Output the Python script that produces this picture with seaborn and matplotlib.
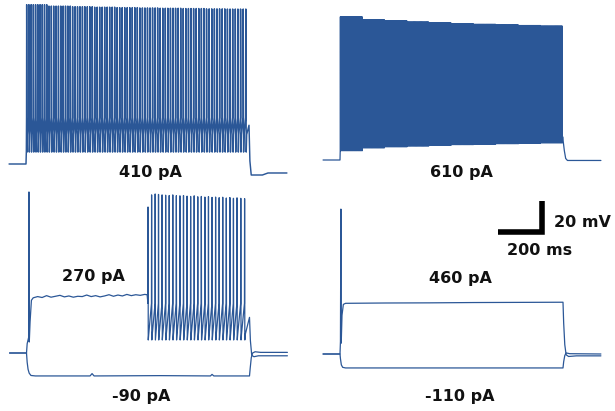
import numpy as np
import pandas as pd
import matplotlib
matplotlib.use("Agg")
import matplotlib.pyplot as plt
import seaborn as sns

# ---------------- protocol ----------------
REST_MV = -70.0
SWEEP_START_MS, SWEEP_END_MS = -76.0, 1170.0
STEP_OFF_MS = 1000.0

# ---------------- 410 pA : tonic firing ----------------
# inter-spike interval (ms) per 100-ms bin of the step, and first spike latency
isi_ms_410 = [10.0, 10.6, 11.0, 11.2, 11.3, 11.4, 11.5, 11.6, 11.7, 11.8]
first_spike_ms_410 = 3.0
peak_mv_410 = [32.8, 31.9, 31.5, 31.2, 30.9, 30.7, 30.5, 30.3, 30.1, 30.0]
ahp_mv_410 = [-62.3] * 10
ramp_mv_410 = (-51.0, -40.0)  # inter-spike depolarisation: start, threshold
pre_t_410 = [SWEEP_START_MS, 0.0, 1.5]
pre_v_410 = [REST_MV, REST_MV, -62.0]
post_t_410 = [1000.0, 1004.0, 1010.0, 1060.0, 1085.0, SWEEP_END_MS]
post_v_410 = [-45.0, -68.0, -77.1, -77.1, -75.8, -75.8]

# ---------------- 610 pA : high-frequency firing ----------------
isi_ms_610 = [3.6, 3.8, 3.9, 3.9, 4.0, 4.0, 4.0, 4.1, 4.1, 4.1]
first_spike_ms_610 = 1.8
peak_mv_610 = [22.4, 20.6, 19.9, 19.1, 18.6, 18.0, 17.6, 17.2, 16.8, 16.5]
ahp_mv_610 = [-64.0, -62.2, -61.5, -61.0, -60.5, -60.1, -59.8, -59.5, -59.2, -59.0]
ramp_mv_610 = (-55.0, -45.0)
pre_t_610 = [SWEEP_START_MS, 0.0, 1.0]
pre_v_610 = [REST_MV, REST_MV, -64.0]
post_t_610 = [1002.0, 1006.0, 1012.0, 1020.0, SWEEP_END_MS]
post_v_610 = [-59.0, -64.0, -69.0, -70.3, -70.3]

# ---------------- 270 pA : delayed burst ----------------
onset_t_270 = [SWEEP_START_MS, 0.0, 3.0, 9.5, 11.0, 12.5, 16.0, 22.0]
onset_v_270 = [REST_MV, REST_MV, -64.0, -60.0, 33.9, -62.9, -50.0, -36.0]
plateau_t_270 = list(np.arange(30.0, 531.0, 20.0))
plateau_v_270 = [-34.4, -33.6, -34.2, -33.0, -34.0, -33.4, -32.8, -33.8, -33.2,
                 -34.0, -33.4, -33.6, -32.6, -33.6, -33.0, -33.8, -33.2, -32.4,
                 -33.4, -32.6, -33.2, -32.2, -33.0, -32.4, -32.8, -32.2]
burst_t_270 = [545, 561, 577, 592, 608, 624, 640, 656, 672, 688, 704, 720, 736, 752,
               768, 784, 800, 816, 832, 848, 864, 880, 896, 912, 928, 944, 961, 978]
burst_peak_270 = [24.2, 32.0, 32.6, 32.3, 32.0, 31.8, 31.6, 32.0, 31.5, 31.4, 31.6,
                  31.2, 31.0, 31.4, 30.8, 31.0, 30.6, 30.9, 30.4, 30.6, 30.2, 30.5,
                  30.0, 30.3, 29.8, 30.1, 29.8, 29.6]
burst_ahp_270 = [-61.6] * len(burst_t_270)
ramp_mv_270 = (-58.0, -38.0)
post_t_270 = [1000.0, 1004.0, 1010.0, 1020.0, 1040.0, SWEEP_END_MS]
post_v_270 = [-47.0, -62.0, -71.5, -72.4, -71.8, -71.8]

# ---------------- -90 pA ----------------
t_m90 = [SWEEP_START_MS, 0, 3, 7, 12, 20, 40, 285, 294, 303, 600, 825, 832, 840,
         1000, 1003, 1008, 1014, 1025, 1050, SWEEP_END_MS]
v_m90 = [REST_MV, REST_MV, -76.0, -80.5, -83.0, -84.5, -84.8, -84.8, -83.3, -84.8,
         -84.6, -84.8, -83.8, -84.8, -84.8, -80.0, -73.0, -70.0, -69.2, -69.6, -69.6]

# ---------------- 460 pA : single onset spike ----------------
t_460 = [SWEEP_START_MS, 0, 2, 4, 5.5, 9, 15, 25, 200, 400, 600, 800, 995,
         1000, 1003, 1008, 1014, 1025, 1060, SWEEP_END_MS]
v_460 = [REST_MV, REST_MV, -62.0, 23.5, -63.0, -45.0, -38.0, -37.3, -37.1, -37.0,
         -36.8, -36.7, -36.6, -36.6, -50.0, -64.0, -70.5, -71.6, -71.2, -71.2]

# ---------------- -110 pA ----------------
t_m110 = [SWEEP_START_MS, 0, 2, 6, 12, 25, 1000, 1003, 1008, 1014, 1030, SWEEP_END_MS]
v_m110 = [REST_MV, REST_MV, -73.0, -77.0, -78.6, -79.0, -79.0, -75.0, -71.0,
          -69.3, -69.8, -70.0]

# ---------------- labels and scale ----------------
labels = ["410 pA", "610 pA", "270 pA", "-90 pA", "460 pA", "-110 pA"]
scale_ms, scale_mv = 200, 20

TRACE_COLOR = "#2B5797"
TEXT_COLOR = "#111111"
W_PX, H_PX = 615, 411
PX_PER_MS = 0.223
PX_PER_MV = 1.55
XLIM = (-100.0, 1200.0)
YLIM = (-100.0, 45.0)
BIN_MS = 100.0


def bin_of(ts, per_bin):
    return per_bin[min(int(ts // BIN_MS), len(per_bin) - 1)]


def spike_times(first_ms, isi_per_bin, last_ms=STEP_OFF_MS - 3.5):
    out, ts = [], first_ms
    while ts <= last_ms:
        out.append(ts)
        ts += bin_of(ts, isi_per_bin)
    return out


def spike_segment(times, peaks, ahps, ramp, fall_ms=1.0):
    t, v = [], []
    for ts, pk, ahp in zip(times, peaks, ahps):
        t += [ts - 0.6, ts, ts + fall_ms, ts + fall_ms + 2.0]
        v += [ramp[1], pk, ahp, ramp[0]]
    return t, v


def train_sweep(pre_t, pre_v, times, peaks, ahps, ramp, post_t, post_v, fall_ms=1.0):
    st, sv = spike_segment(times, peaks, ahps, ramp, fall_ms)
    return pre_t + st + post_t, pre_v + sv + post_v


def binned_train(pre_t, pre_v, first_ms, isi, peaks, ahps, ramp, post_t, post_v,
                 fall_ms=1.0):
    times = spike_times(first_ms, isi)
    return train_sweep(pre_t, pre_v, times,
                       [bin_of(ts, peaks) for ts in times],
                       [bin_of(ts, ahps) for ts in times],
                       ramp, post_t, post_v, fall_ms)


def panel_axes(fig, x_on_px, y_rest_px):
    left = x_on_px + XLIM[0] * PX_PER_MS
    width = (XLIM[1] - XLIM[0]) * PX_PER_MS
    top = y_rest_px - (YLIM[1] - REST_MV) * PX_PER_MV
    height = (YLIM[1] - YLIM[0]) * PX_PER_MV
    ax = fig.add_axes([left / W_PX, 1 - (top + height) / H_PX, width / W_PX, height / H_PX])
    ax.set_xlim(XLIM)
    ax.set_ylim(YLIM)
    ax.axis("off")
    return ax


def draw_sweeps(ax, sweeps, lw):
    frames = []
    for name, (t, v) in sweeps.items():
        frames.append(pd.DataFrame({"t": t, "v": v, "sweep": name}))
    df = pd.concat(frames, ignore_index=True)
    sns.lineplot(data=df, x="t", y="v", units="sweep", estimator=None, sort=False,
                 color=TRACE_COLOR, linewidth=lw, ax=ax, legend=False)
    ax.set_xlim(XLIM)
    ax.set_ylim(YLIM)
    ax.axis("off")


sns.set_theme(style="white")
plt.rcParams["font.family"] = ["DejaVu Sans"]

fig = plt.figure(figsize=(6.15, 4.11), dpi=100)
fig.patch.set_facecolor("white")

# 410 pA
ax1 = panel_axes(fig, 26.0, 164.0)
sweep410 = binned_train(pre_t_410, pre_v_410, first_spike_ms_410, isi_ms_410,
                        peak_mv_410, ahp_mv_410, ramp_mv_410, post_t_410, post_v_410,
                        fall_ms=1.8)
draw_sweeps(ax1, {"410": sweep410}, 1.05)

# 610 pA
ax2 = panel_axes(fig, 340.0, 160.0)
sweep610 = binned_train(pre_t_610, pre_v_610, first_spike_ms_610, isi_ms_610,
                        peak_mv_610, ahp_mv_610, ramp_mv_610, post_t_610, post_v_610)
draw_sweeps(ax2, {"610": sweep610}, 0.9)

# 270 pA and -90 pA
ax3 = panel_axes(fig, 26.5, 353.0)
sweep270 = train_sweep(onset_t_270 + plateau_t_270 + [541.0],
                       onset_v_270 + plateau_v_270 + [-32.4],
                       burst_t_270, burst_peak_270, burst_ahp_270, ramp_mv_270,
                       post_t_270, post_v_270)
draw_sweeps(ax3, {"270": sweep270, "-90": (t_m90, v_m90)}, 0.9)

# 460 pA and -110 pA
ax4 = panel_axes(fig, 340.0, 354.0)
draw_sweeps(ax4, {"460": (t_460, v_460), "-110": (t_m110, v_m110)}, 0.9)

# scale bar (200 ms / 20 mV)
corner_t, corner_v = 908.0, 8.7
ax4.plot([corner_t - scale_ms, corner_t, corner_t],
         [corner_v, corner_v, corner_v + scale_mv],
         color="black", linewidth=4.0, solid_joinstyle="miter",
         solid_capstyle="butt", clip_on=False)

# labels (figure pixel positions, baseline aligned)
label_pos = [(150, 176.5), (461, 176.5), (93, 281.5), (141, 401), (460.5, 283), (460, 401)]
for text, (x, y) in zip(labels, label_pos):
    fig.text(x / W_PX, 1 - y / H_PX, text, ha="center", va="baseline",
             fontsize=11.5, fontweight="bold", color=TEXT_COLOR)
fig.text(554 / W_PX, 1 - 226.5 / H_PX, f"{scale_mv} mV", ha="left", va="baseline",
         fontsize=11.5, fontweight="bold", color=TEXT_COLOR)
fig.text(539.5 / W_PX, 1 - 255 / H_PX, f"{scale_ms} ms", ha="center", va="baseline",
         fontsize=11.5, fontweight="bold", color=TEXT_COLOR)

fig.savefig("out.png", dpi=100, facecolor="white")
